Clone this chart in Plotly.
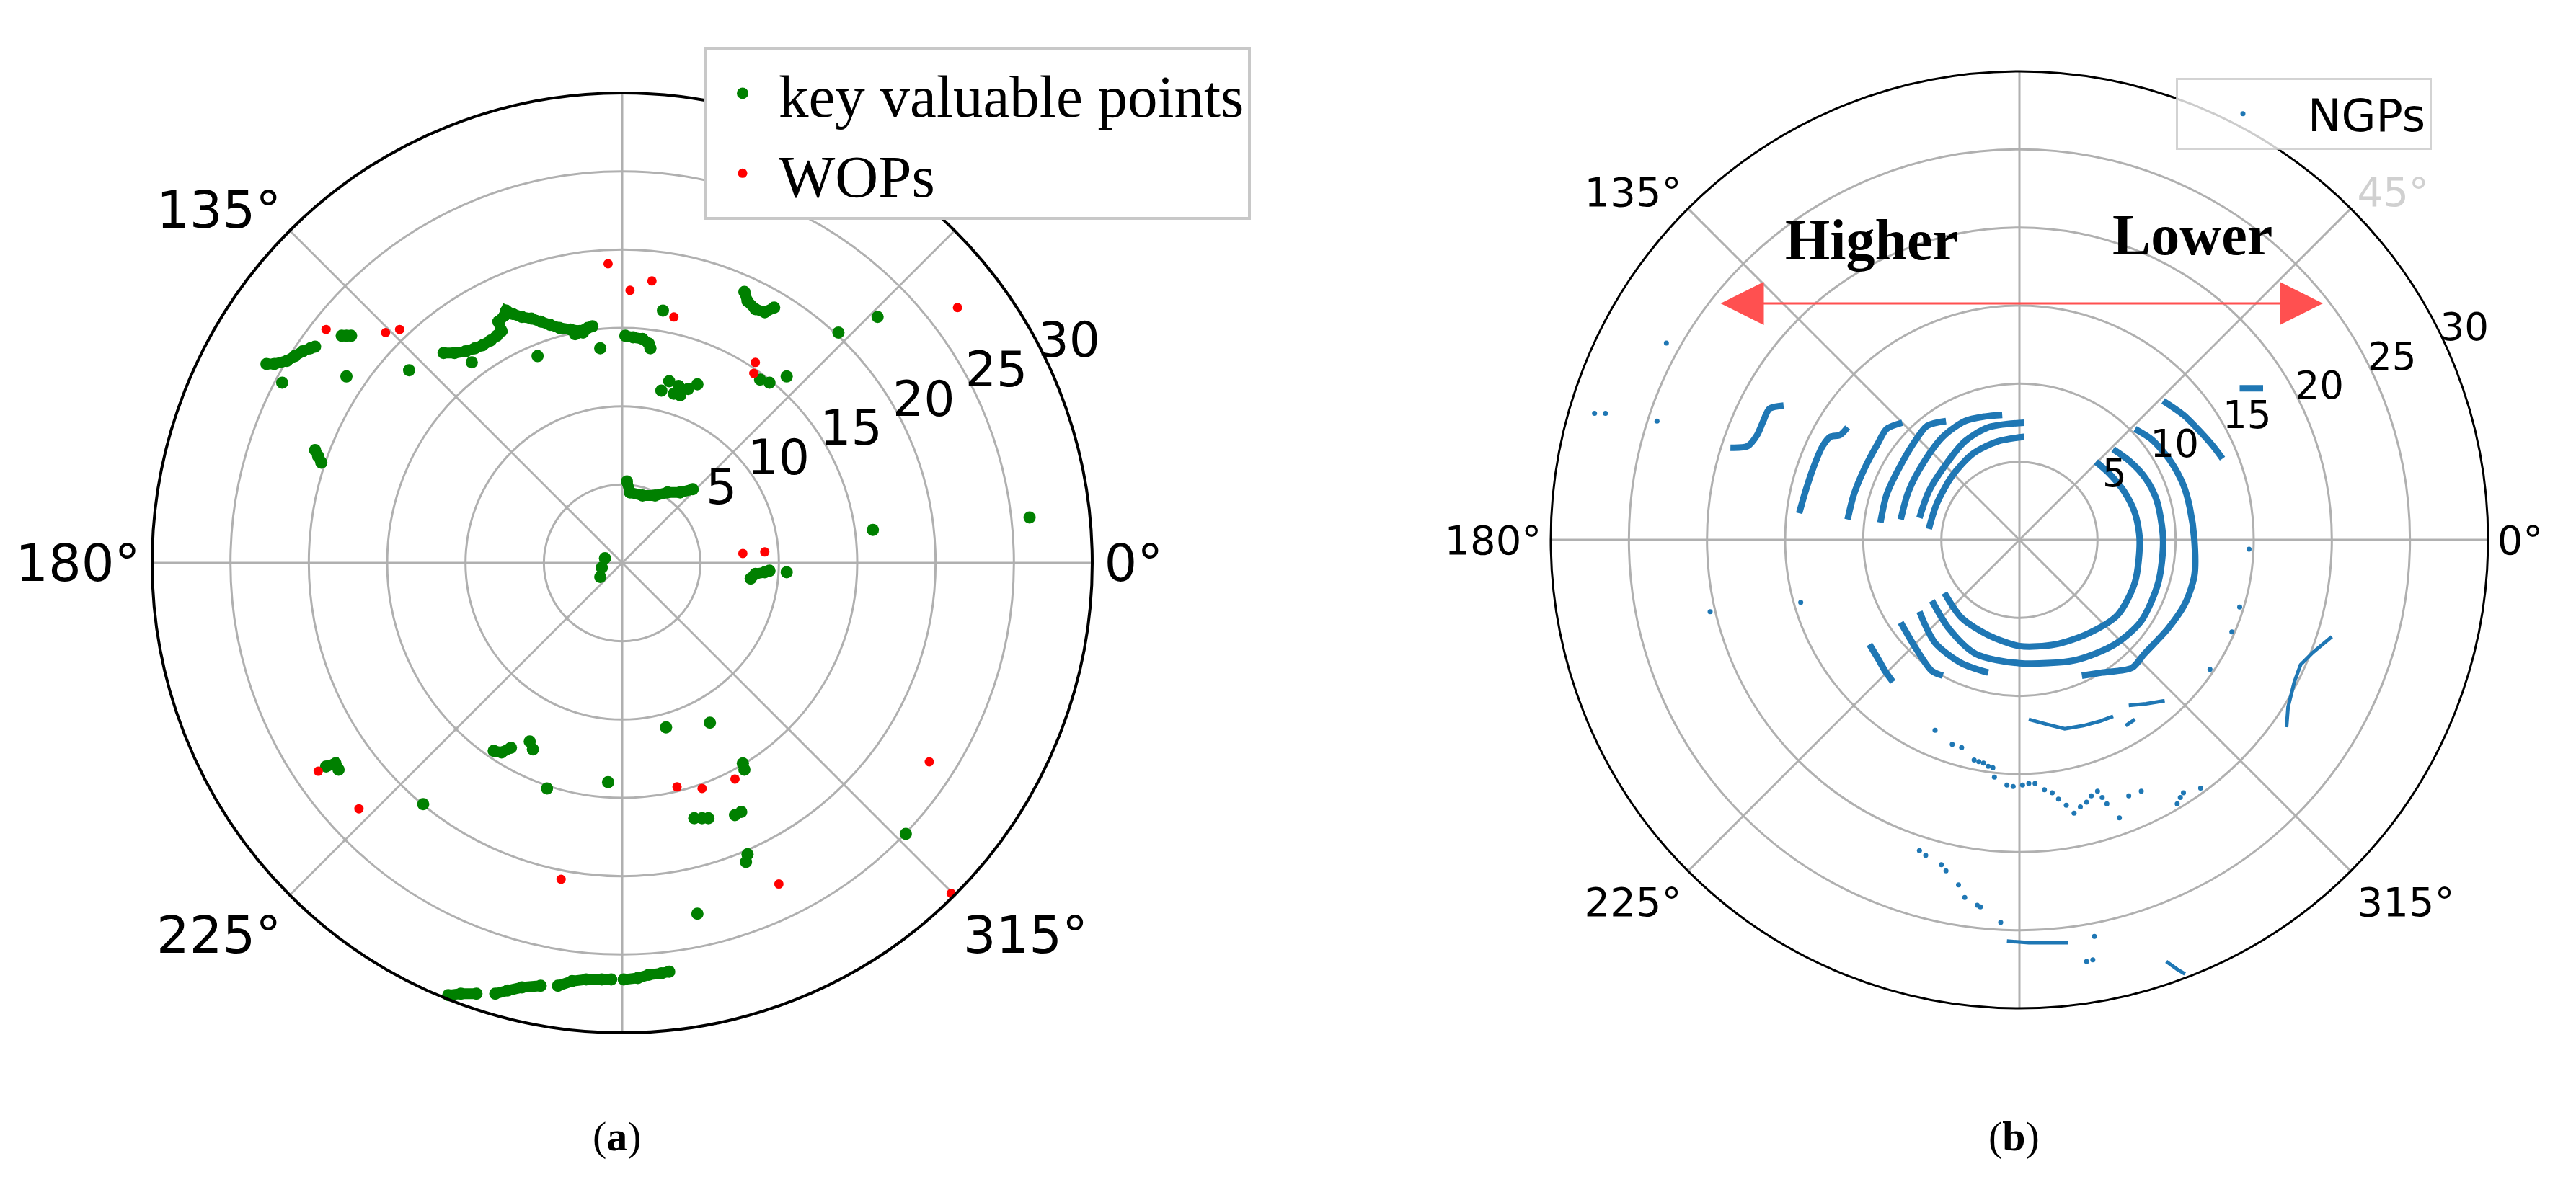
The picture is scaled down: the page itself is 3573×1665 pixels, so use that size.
import numpy as np
import plotly.graph_objects as go

# ---------------- (a) data: LiDAR-frame coordinates (m) ----------------
kvp_x = [-22.7, -22.2, -21.4, -20.9, -20.4, -19.9, -19.6, -21.7, -17.9, -17.6, -17.3, -17.6, -13.6,
         -19.6, -19.4, -19.2,
         -11.4, -10.7, -10.0, -9.4, -8.9, -8.4, -8.0, -7.7, -7.9, -7.5, -7.4, -7.0, -6.4, -5.8, -5.2,
         -4.6, -4.0, -3.3, -2.7, -2.2, -1.9, -3.0, -2.5, -9.6,
         -5.4, -1.4, 0.2, 0.7, 1.3, 1.7, 1.8, 2.6, 7.8, 8.0, 8.5, 9.1, 9.7, 13.8, 16.3,
         2.5, 3.0, 3.6, 4.2, 4.8, 3.3, 3.7, 8.8, 9.4, 10.5,
         0.3, 0.5, 1.3, 2.1, 2.9, 3.7, 4.5, 16.0, 26.0,
         -1.1, -1.3, -1.4, -18.9, -18.3, -18.1, -12.7, -8.2, -7.7, -7.1, -5.9, -5.7, -4.8, -0.9,
         -11.1, -10.3, -9.3, -8.1, -7.3, -6.4, -5.2, -4.1, -3.2, -2.3, -1.3, -0.7, 0.1, 1.0, 1.7, 2.5, 3.0,
         8.2, 8.5, 9.1, 9.4, 10.5, 2.8, 5.6, 7.7, 7.8, 4.6, 5.1, 5.5, 7.2, 7.6, 18.1, 8.0, 7.9, 4.8]
kvp_y = [12.7, 12.7, 12.9, 13.2, 13.5, 13.7, 13.8, 11.5, 14.5, 14.5, 14.5, 11.9, 12.3,
         7.2, 6.8, 6.4,
         13.4, 13.4, 13.5, 13.7, 13.9, 14.2, 14.5, 14.8, 15.4, 15.8, 16.1, 15.9, 15.7, 15.6, 15.4,
         15.2, 15.0, 14.9, 14.8, 15.0, 15.1, 14.6, 14.7, 12.8,
         13.2, 13.7, 14.5, 14.4, 14.3, 14.0, 13.7, 16.1, 17.3, 16.7, 16.2, 16.0, 16.3, 14.7, 15.7,
         11.0, 11.6, 11.3, 11.1, 11.4, 10.8, 10.7, 11.7, 11.5, 11.9,
         5.2, 4.5, 4.3, 4.3, 4.5, 4.5, 4.7, 2.1, 2.9,
         0.3, -0.3, -0.9, -13.0, -12.8, -13.2, -15.4, -12.0, -12.1, -11.8, -11.4, -11.9, -14.4, -14.0,
         -27.6, -27.5, -27.5, -27.5, -27.3, -27.1, -27.0, -27.0, -26.7, -26.6, -26.6, -26.6, -26.6, -26.5, -26.3, -26.2, -26.1,
         -1.0, -0.7, -0.6, -0.5, -0.6, -10.5, -10.2, -12.8, -13.2, -16.3, -16.3, -16.3, -16.1, -15.9, -17.3, -18.6, -19.1, -22.4]

# continuous streaks of key valuable points (None separates streaks)
kvp_streak_x = [-22.7, -22.2, -21.4, -20.9, -20.4, -19.9, -19.6, None,
                -11.4, -10.7, -10.0, -9.4, -8.9, -8.4, -8.0, -7.7, -7.9, -7.5, -7.4, -7.0, -6.4, -5.8,
                -5.2, -4.6, -4.0, -3.3, -2.7, -2.2, -1.9, None,
                -19.6, -19.4, -19.2, None, -17.9, -17.3, None,
                0.2, 0.7, 1.3, 1.7, 1.8, None, 7.8, 8.0, 8.5, 9.1, 9.7, None,
                0.3, 0.5, 1.3, 2.1, 2.9, 3.7, 4.5, None, 8.2, 8.5, 9.1, 9.4, None,
                -18.9, -18.3, -18.1, None, -8.2, -7.7, -7.1, None,
                -11.1, -10.3, -9.3, None, -8.1, -7.3, -6.4, -5.2, None,
                -4.1, -3.2, -2.3, -1.3, -0.7, None, 0.1, 1.0, 1.7, 2.5, 3.0]
kvp_streak_y = [12.7, 12.7, 12.9, 13.2, 13.5, 13.7, 13.8, None,
                13.4, 13.4, 13.5, 13.7, 13.9, 14.2, 14.5, 14.8, 15.4, 15.8, 16.1, 15.9, 15.7, 15.6,
                15.4, 15.2, 15.0, 14.9, 14.8, 15.0, 15.1, None,
                7.2, 6.8, 6.4, None, 14.5, 14.5, None,
                14.5, 14.4, 14.3, 14.0, 13.7, None, 17.3, 16.7, 16.2, 16.0, 16.3, None,
                5.2, 4.5, 4.3, 4.3, 4.5, 4.5, 4.7, None, -1.0, -0.7, -0.6, -0.5, None,
                -13.0, -12.8, -13.2, None, -12.0, -12.1, -11.8, None,
                -27.6, -27.5, -27.5, None, -27.5, -27.3, -27.1, -27.0, None,
                -27.0, -26.7, -26.6, -26.6, -26.6, None, -26.6, -26.5, -26.3, -26.2, -26.1]

wop_x = [-18.9, -15.1, -14.2, -0.9, 0.5, 1.9, 3.3, 8.5, 8.4, 21.4, 7.7, 9.1,
         -19.4, -16.8, -3.9, 3.5, 5.1, 7.2, 19.6, 10.0, 21.0]
wop_y = [14.9, 14.7, 14.9, 19.1, 17.4, 18.0, 15.7, 12.8, 12.1, 16.3, 0.6, 0.7,
         -13.3, -15.7, -20.2, -14.3, -14.4, -13.8, -12.7, -20.5, -21.1]

# ---------------- (b) data: NGPs ----------------
# ground rings (None separates rings)
ngp_ring_x = [-18.5, -17.4, -16.8, -16.4, -16.0, -15.1, None,
              -14.1, -13.7, -13.2, -12.6, -12.1, -11.5, -11.0, None,
              -11.0, -10.6, -9.9, -9.1, -8.5, -7.5, None,
              -8.9, -8.5, -7.7, -6.7, -5.9, -4.7, None,
              -7.6, -7.1, -6.1, -4.9, -3.5, -2.2, -1.1, None,
              -6.4, -5.8, -4.8, -3.5, -2.0, 0.3, None,
              -5.8, -5.3, -4.3, -3.0, -1.4, 0.3, None,
              4.9, 5.7, 6.7, 7.4, 7.7, 7.4, 6.3, 4.4, 2.3, 0.0, -2.0, -3.7, -4.8, None,
              6.0, 7.1, 8.1, 8.8, 9.2, 8.9, 7.8, 6.1, 3.6, 0.0, -2.8, -4.5, -5.6, None,
              7.4, 8.5, 9.7, 10.5, 10.9, 11.2, 11.2, 10.6, 9.5, 8.0, 7.2, 5.3, 4.0, None,
              -2.0, -3.7, -5.4, -6.4, None,
              -7.6, -6.6, -5.6, -4.9, None,
              -9.6, -9.0, -8.6, -8.1, None,
              9.2, 10.5, 11.6, 12.4, 13.0, None, 14.1, 15.6]
ngp_ring_y = [5.9, 6.0, 6.7, 7.6, 8.4, 8.6, None,
              1.7, 3.1, 4.6, 6.0, 6.6, 6.7, 7.2, None,
              1.3, 2.9, 4.6, 6.1, 7.1, 7.5, None,
              1.1, 2.9, 4.6, 6.3, 7.3, 7.6, None,
              1.3, 3.1, 5.0, 6.6, 7.6, 7.9, 8.0, None,
              1.4, 3.1, 4.7, 6.3, 7.2, 7.5, None,
              0.7, 2.3, 4.1, 5.5, 6.3, 6.6, None,
              5.0, 4.3, 3.1, 1.7, 0.0, -2.7, -4.8, -6.0, -6.7, -6.8, -6.1, -5.0, -3.4, None,
              5.8, 5.0, 3.9, 2.5, 0.0, -2.7, -5.2, -6.7, -7.7, -7.9, -7.3, -5.7, -3.9, None,
              7.1, 6.4, 5.0, 3.5, 2.1, 0.0, -2.3, -4.1, -5.7, -7.3, -8.2, -8.5, -8.7, None,
              -8.5, -7.9, -6.6, -4.6, None,
              -5.3, -7.0, -8.4, -8.7, None,
              -6.7, -7.7, -8.4, -9.1, None,
              8.9, 8.0, 6.9, 6.0, 5.2, None, 9.7, 9.7]

# object outlines (None separates outlines)
ngp_edge_x = [0.6, 1.7, 2.9, 4.1, 5.2, 6.0, None, 6.8, 7.4, None, 7.0, 8.1, 9.3, None,
              20.0, 18.8, 18.0, 17.6, 17.2, 17.1, None, -0.8, 0.6, 1.7, 3.1, None,
              9.4, 10.1, 10.6]
ngp_edge_y = [-11.5, -11.8, -12.1, -11.9, -11.6, -11.3, None, -11.9, -11.5, None, -10.6, -10.5, -10.3, None,
              -6.2, -7.2, -8.0, -9.1, -10.7, -12.0, None, -25.7, -25.8, -25.8, -25.8, None,
              -27.0, -27.5, -27.8]

# isolated points
ngp_pt_x = [-22.6, -27.2, -26.5, -23.2, 14.7, 14.1, 13.6, 12.2, -14.0, -19.8,
            -5.4, -4.3, -3.7, -2.9, -2.6, -2.3, -2.0, -1.7, -1.6,
            -0.8, -0.4, 0.2, 0.6, 1.0, 1.6, 2.1, 2.5, 3.0, 3.5, 3.9, 4.3, 4.6, 5.0, 5.3, 5.6,
            6.4, 7.0, 7.8, 10.1, 10.3, 10.5, 11.6,
            -6.4, -6.0, -5.0, -4.7, -3.9, -3.5, -2.7, -2.5, -1.2, 4.8, 4.3, 4.7]
ngp_pt_y = [12.6, 8.1, 8.1, 7.6, -0.6, -4.3, -5.9, -8.3, -4.0, -4.6,
            -12.2, -13.1, -13.3, -14.1, -14.2, -14.3, -14.5, -14.6, -15.2,
            -15.7, -15.8, -15.7, -15.6, -15.6, -16.0, -16.2, -16.6, -17.0, -17.5, -17.1, -16.8, -16.4, -16.1, -16.5, -16.9,
            -17.8, -16.4, -16.1, -16.9, -16.5, -16.2, -15.9,
            -19.9, -20.2, -20.8, -21.2, -22.1, -22.9, -23.4, -23.5, -24.5, -25.4, -27.0, -26.9]

angle_ticks = [0, 45, 90, 135, 180, 225, 270, 315]
angle_text_a = ["0°", "", "", "135°", "180°", "225°", "", "315°"]          # 45° hidden by legend
angle_text_b = ["0°", '<span style="color:#d0d0d0">45°</span>', "", "135°", "180°", "225°", "", "315°"]
radial_ticks = [5, 10, 15, 20, 25, 30]
radial_labels = ["5", "10", "15", "20", "25", "30"]
R_MAX = 30


def to_polar(xs, ys):
    r, th = [], []
    for x, y in zip(xs, ys):
        if x is None or y is None:
            r.append(None)
            th.append(None)
        else:
            r.append(float(np.hypot(x, y)))
            th.append(float(np.degrees(np.arctan2(y, x)) % 360))
    return r, th


W, H = 3573, 1665
GREEN = "#008000"
RED = "#ff0000"
BLUE = "#1f77b4"

fig = go.Figure()

r, th = to_polar(kvp_streak_x, kvp_streak_y)
fig.add_trace(go.Scatterpolar(r=r, theta=th, mode="lines", subplot="polar",
                              line=dict(color=GREEN, width=15), showlegend=False, hoverinfo="skip"))
r, th = to_polar(kvp_x, kvp_y)
fig.add_trace(go.Scatterpolar(r=r, theta=th, mode="markers", subplot="polar", name="key valuable points",
                              marker=dict(color=GREEN, size=17), legend="legend"))
r, th = to_polar(wop_x, wop_y)
fig.add_trace(go.Scatterpolar(r=r, theta=th, mode="markers", subplot="polar", name="WOPs",
                              marker=dict(color=RED, size=13), legend="legend"))

r, th = to_polar(ngp_ring_x, ngp_ring_y)
fig.add_trace(go.Scatterpolar(r=r, theta=th, mode="lines", subplot="polar2",
                              line=dict(color=BLUE, width=9, shape="spline", smoothing=0.8),
                              showlegend=False, hoverinfo="skip"))
r, th = to_polar(ngp_edge_x, ngp_edge_y)
fig.add_trace(go.Scatterpolar(r=r, theta=th, mode="lines", subplot="polar2",
                              line=dict(color=BLUE, width=5), showlegend=False, hoverinfo="skip"))
r, th = to_polar(ngp_pt_x, ngp_pt_y)
fig.add_trace(go.Scatterpolar(r=r, theta=th, mode="markers", subplot="polar2", name="NGPs",
                              marker=dict(color=BLUE, size=7), legend="legend2"))

# empty traces so that the radial-label overlay subplots are drawn
for sp in ("polar3", "polar4"):
    fig.add_trace(go.Scatterpolar(r=[], theta=[], subplot=sp, showlegend=False, hoverinfo="skip"))


def dom(cx, cy, R):
    return dict(x=[(cx - R) / W, (cx + R) / W], y=[1 - (cy + R) / H, 1 - (cy - R) / H])


def polar_cfg(cx, cy, R, ang_size, grid_w, line_w, ticktext):
    return dict(
        domain=dom(cx, cy, R),
        bgcolor="white",
        radialaxis=dict(range=[0, R_MAX], tickmode="array", tickvals=radial_ticks,
                        showticklabels=False, angle=22.5,
                        showline=False, ticks="", gridcolor="#b0b0b0", gridwidth=grid_w),
        angularaxis=dict(rotation=0, direction="counterclockwise", tickmode="array",
                         tickvals=angle_ticks, ticktext=ticktext, showline=True,
                         linecolor="black", linewidth=line_w, gridcolor="#b0b0b0",
                         gridwidth=grid_w, ticks="",
                         tickfont=dict(family="DejaVu Sans", size=ang_size, color="black")),
    )


def label_cfg(cx, cy, R, shift, angle, size):
    # radial tick-label layer: same px-per-metre scale as the data subplot, labels offset outward
    px_per_unit = R / R_MAX
    R2 = (R_MAX + shift) * px_per_unit + 8
    return dict(
        domain=dom(cx, cy, R2),
        bgcolor="rgba(0,0,0,0)",
        radialaxis=dict(range=[-shift, -shift + R2 / px_per_unit], tickmode="array",
                        tickvals=radial_ticks, ticktext=radial_labels, angle=angle,
                        tickangle=angle, side="counterclockwise", showgrid=False,
                        showline=False, ticks="",
                        tickfont=dict(family="DejaVu Sans", size=size, color="black")),
        angularaxis=dict(visible=False, showgrid=False, showline=False, ticks=""),
    )


fig.update_layout(
    width=W, height=H, margin=dict(l=0, r=0, t=0, b=0),
    paper_bgcolor="white", plot_bgcolor="white",
    polar=polar_cfg(855, 773, 652, 72, 3, 4, angle_text_a),
    polar2=polar_cfg(2793, 741, 650, 56, 2.5, 3, angle_text_b),
    polar3=label_cfg(855, 773, 652, 3.8, 22, 68),
    polar4=label_cfg(2793, 741, 650, 3.1, 22, 53),
    legend=dict(x=968 / W, y=1 - 57 / H, xanchor="left", yanchor="top",
                bgcolor="white", bordercolor="#c8c8c8", borderwidth=4,
                font=dict(family="Liberation Serif", size=83, color="black"),
                itemsizing="trace", itemwidth=90),
    legend2=dict(x=3010 / W, y=1 - 100 / H, xanchor="left", yanchor="top",
                 bgcolor="rgba(255,255,255,0.8)", bordercolor="rgba(200,200,200,0.8)", borderwidth=3,
                 font=dict(family="DejaVu Sans", size=62, color="black"), itemwidth=170),
    annotations=[
        dict(text="(<b>a</b>)", x=848 / W, y=1 - 1568 / H, xref="paper", yref="paper",
             xanchor="center", yanchor="middle",
             showarrow=False, font=dict(family="Liberation Serif", size=58, color="black")),
        dict(text="(<b>b</b>)", x=2785 / W, y=1 - 1568 / H, xref="paper", yref="paper",
             xanchor="center", yanchor="middle",
             showarrow=False, font=dict(family="Liberation Serif", size=58, color="black")),
        dict(text="<b>Higher</b>", x=2588 / W, y=1 - 325 / H, xref="paper", yref="paper",
             xanchor="center", yanchor="middle",
             showarrow=False, font=dict(family="Liberation Serif", size=80, color="black")),
        dict(text="<b>Lower</b>", x=3033 / W, y=1 - 318 / H, xref="paper", yref="paper",
             xanchor="center", yanchor="middle",
             showarrow=False, font=dict(family="Liberation Serif", size=80, color="black")),
        dict(text="", x=3214 / W, y=1 - 413 / H, xref="paper", yref="paper",
             ax=-837, ay=0, showarrow=True, arrowside="end+start",
             arrowhead=2, startarrowhead=2, arrowsize=4, startarrowsize=4,
             arrowwidth=3, arrowcolor="#ff5050"),
    ],
)

fig.write_html("out.html")
